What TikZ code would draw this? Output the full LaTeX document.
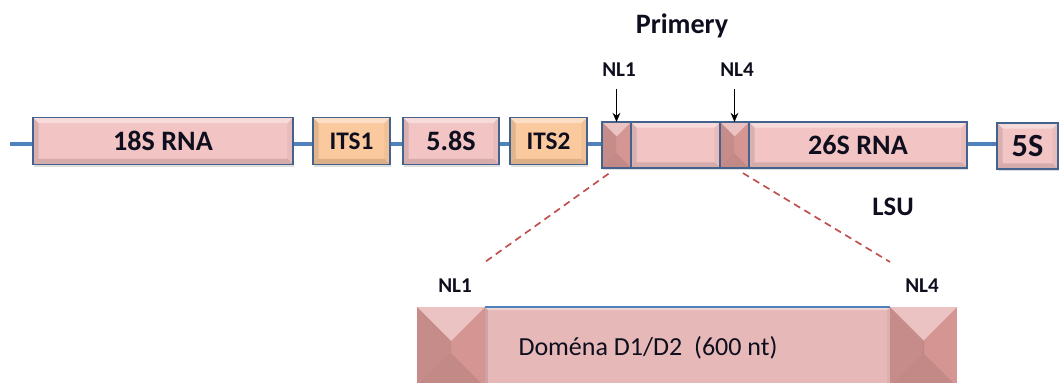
\documentclass[tikz,border=0pt]{standalone}
\usepackage{fontspec}
\setmainfont{Carlito}
\usetikzlibrary{arrows.meta,shadows,backgrounds}

\definecolor{rnapink}{RGB}{242,196,196}
\definecolor{itspeach}{RGB}{250,201,157}
\definecolor{nlrose}{RGB}{221,156,154}
\definecolor{dompink}{RGB}{230,184,183}
\definecolor{boxedge}{RGB}{68,98,142}
\definecolor{strand}{RGB}{79,129,189}
\definecolor{zoomred}{RGB}{192,80,77}
\definecolor{inkdark}{RGB}{14,14,30}

\tikzset{
  bevel/.style={path picture={
    \coordinate (pnw) at (path picture bounding box.north west);
    \coordinate (pne) at (path picture bounding box.north east);
    \coordinate (psw) at (path picture bounding box.south west);
    \coordinate (pse) at (path picture bounding box.south east);
    \fill[white,opacity=.4] (pnw) -- (pne) -- ([shift={(-#1,-#1)}]pne) -- ([shift={(#1,-#1)}]pnw) -- cycle;
    \fill[black,opacity=.12] (psw) -- (pse) -- ([shift={(-#1,#1)}]pse) -- ([shift={(#1,#1)}]psw) -- cycle;
    \fill[black,opacity=.10] (pnw) -- (psw) -- ([shift={(#1,#1)}]psw) -- ([shift={(#1,-#1)}]pnw) -- cycle;
    \fill[black,opacity=.04] (pne) -- (pse) -- ([shift={(-#1,#1)}]pse) -- ([shift={(-#1,-#1)}]pne) -- cycle;
  }}
}

\begin{document}
\begin{tikzpicture}[x=0.025cm, y=-0.025cm,
    gene/.style={draw=boxedge, line width=1pt, fill=rnapink, inner sep=0pt, outer sep=0pt,
      minimum height=1.175cm, bevel=4pt,
      drop shadow={opacity=.25, shadow xshift=1pt, shadow yshift=-1.5pt},
      font=\fontsize{20}{22}\selectfont\bfseries, text=inkdark},
    spacer/.style={gene, fill=itspeach, font=\fontsize{18}{20}\selectfont\bfseries},
    nlbox/.style={gene, fill=nlrose, minimum width=0.725cm, minimum height=1.15cm, bevel=10.3pt},
    bignl/.style={fill=nlrose, inner sep=0pt, outer sep=0pt, minimum width=1.7cm,
      minimum height=2cm, bevel=24.2pt},
    dombox/.style={fill=dompink, inner sep=0pt, outer sep=0pt, minimum width=10.125cm,
      minimum height=2cm, bevel=2pt},
    headtext/.style={anchor=base, inner sep=0pt, text=inkdark,
      font=\fontsize{20}{22}\selectfont\bfseries},
    nltag/.style={anchor=base, inner sep=0pt, text=inkdark,
      font=\fontsize{15}{17}\selectfont\bfseries},
    domtext/.style={anchor=base, inner sep=0pt, text=inkdark,
      font=\fontsize{18.5}{20}\selectfont},
    strandline/.style={draw=strand, line width=3.5pt},
    pointer/.style={-{Stealth[length=6.5pt,width=5.5pt]}, line width=1.1pt, shorten <=9pt},
    zoomline/.style={draw=zoomred, line width=1.2pt, dash pattern=on 5pt off 3.5pt, shorten <=7pt}
  ]
  \useasboundingbox (0,0) rectangle (1060,382);
  \clip (0,0) rectangle (1060,382);

  % Title
  \node[headtext] at (682,33) (primery) {Primery};

  % rDNA unit
  \node[gene, minimum width=6.5cm] at (163,141) (rna18) {18S RNA};
  \node[spacer, minimum width=1.925cm] at (351.5,141) (its1) {ITS1};
  \node[gene, minimum width=2.4cm] at (451,141) (s58) {5.8S};
  \node[spacer, minimum width=1.925cm] at (548.5,141) (its2) {ITS2};
  \node[nlbox] at (616.5,145) (nl1) {};
  \node[gene, minimum width=2.225cm, minimum height=1.15cm] at (675.5,145) (d12) {};
  \node[nlbox] at (734.5,145) (nl4) {};
  \node[gene, minimum width=5.45cm, minimum height=1.15cm] at (858,145) (rna26) {26S RNA};
  \node[gene, minimum width=1.525cm, minimum height=1.15cm,
        font=\fontsize{23}{25}\selectfont\bfseries] at (1027.5,146) (s5) {5S};

  % Backbone behind the boxes
  \coordinate (strandstart) at (10,144);
  \begin{scope}[on background layer]
    \draw[strandline] (strandstart) -- (strandstart -| s5.west);
  \end{scope}

  % Primer sites
  \node[nltag] at (619,76) (nl1top) {NL1};
  \node[nltag] at (737,76) (nl4top) {NL4};
  \draw[pointer] (nl1.north |- nl1top.south) -- (nl1.north);
  \draw[pointer] (nl4.north |- nl4top.south) -- (nl4.north);

  \node[headtext, font=\fontsize{19}{21}\selectfont\bfseries] at (893,215) (lsu) {LSU};

  % D1/D2 domain
  \node[bignl] at (451,347) (bnl1) {};
  \node[dombox] at (687.5,347) (dom) {};
  \node[bignl, minimum width=1.675cm] at (923.5,347) (bnl4) {};
  \draw[strand, line width=1pt] (dom.north west) -- (dom.north east);
  \node[domtext] at (648,355) (domlab) {Doména D1/D2~~(600 nt)};
  \node[nltag] at (455,292) (nl1bot) {NL1};
  \node[nltag] at (922,292) (nl4bot) {NL4};

  % Zoom lines
  \coordinate (cut1) at (485,262);
  \coordinate (cut4) at (890,262);
  \draw[zoomline] (nl1.south) -- (cut1);
  \draw[zoomline] (nl4.south) -- (cut4);

\end{tikzpicture}
\end{document}
